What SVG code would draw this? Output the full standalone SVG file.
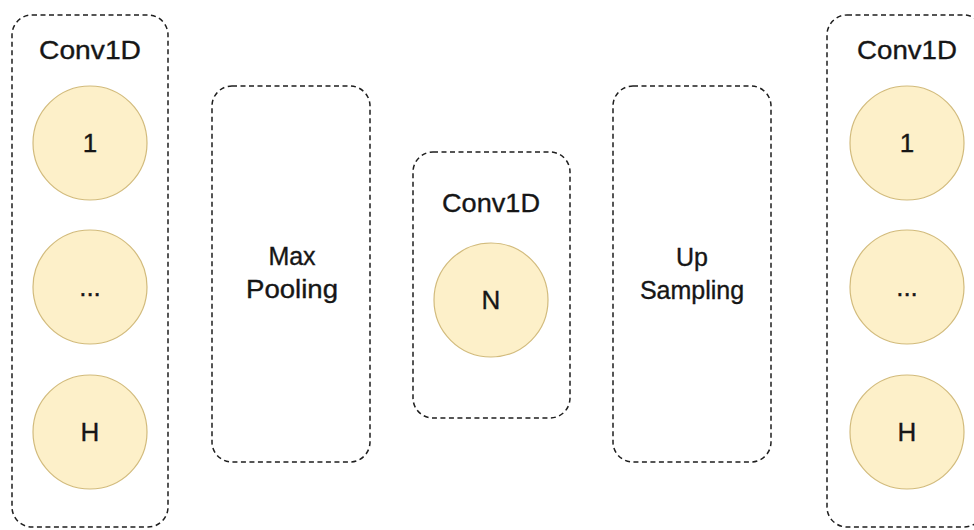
<svg xmlns="http://www.w3.org/2000/svg" width="974" height="530" viewBox="0 0 974 530">
  <style>
    .frame { fill: #ffffff; stroke: #1e1e1e; stroke-width: 1.5; stroke-dasharray: 5 3.5; }
    .unit { fill: #fdf0c9; stroke: #d2bb7c; stroke-width: 1.2; }
    .label { font-family: "Liberation Sans", Arial, sans-serif; font-size: 26px; fill: #161616; stroke: #161616; stroke-width: 0.35; text-anchor: middle; }
    .op { font-size: 25px; }
  </style>
  <rect width="974" height="530" fill="#ffffff"/>

  <!-- Input convolution layer -->
  <g id="conv-in">
    <rect class="frame" x="12" y="15" width="156" height="512" rx="20" ry="20"/>
    <text class="label" x="90" y="59" textLength="102" lengthAdjust="spacingAndGlyphs">Conv1D</text>
    <g id="conv-in-1">
      <circle class="unit" cx="90" cy="143" r="57"/>
      <text class="label" x="90" y="152">1</text>
    </g>
    <g id="conv-in-mid">
      <circle class="unit" cx="90" cy="287" r="57"/>
      <text class="label" x="90" y="296">...</text>
    </g>
    <g id="conv-in-h">
      <circle class="unit" cx="90" cy="432" r="57"/>
      <text class="label" x="90" y="441">H</text>
    </g>
  </g>

  <!-- Max pooling -->
  <g id="max-pooling">
    <rect class="frame" x="212" y="86" width="158" height="376" rx="20" ry="20"/>
    <text class="label op" x="292" y="265">Max</text>
    <text class="label op" x="292" y="298" textLength="92" lengthAdjust="spacingAndGlyphs">Pooling</text>
  </g>

  <!-- Bottleneck convolution -->
  <g id="conv-mid">
    <rect class="frame" x="413" y="152" width="157" height="266" rx="20" ry="20"/>
    <text class="label" x="491" y="212" textLength="98" lengthAdjust="spacingAndGlyphs">Conv1D</text>
    <g id="conv-mid-n">
      <circle class="unit" cx="491" cy="300" r="57"/>
      <text class="label" x="491" y="309">N</text>
    </g>
  </g>

  <!-- Up sampling -->
  <g id="up-sampling">
    <rect class="frame" x="613" y="86" width="158" height="376" rx="20" ry="20"/>
    <text class="label op" x="692" y="266">Up</text>
    <text class="label op" x="692" y="299">Sampling</text>
  </g>

  <!-- Output convolution layer -->
  <g id="conv-out">
    <rect class="frame" x="827" y="15" width="157" height="512" rx="20" ry="20"/>
    <text class="label" x="907" y="59" textLength="100" lengthAdjust="spacingAndGlyphs">Conv1D</text>
    <g id="conv-out-1">
      <circle class="unit" cx="907" cy="143" r="57"/>
      <text class="label" x="907" y="152">1</text>
    </g>
    <g id="conv-out-mid">
      <circle class="unit" cx="907" cy="287" r="57"/>
      <text class="label" x="907" y="296">...</text>
    </g>
    <g id="conv-out-h">
      <circle class="unit" cx="907" cy="432" r="57"/>
      <text class="label" x="907" y="441">H</text>
    </g>
  </g>

  <!-- No connectors in this layout -->
  <g id="connectors"/>
</svg>
